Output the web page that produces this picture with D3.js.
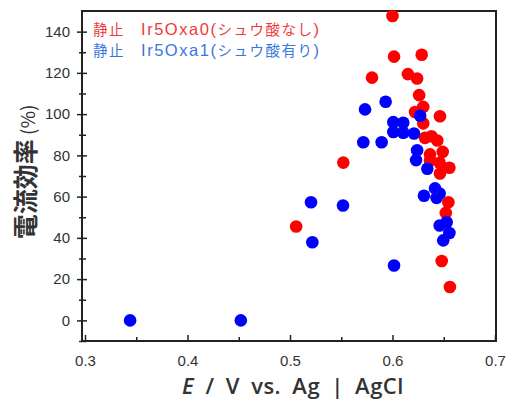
<!DOCTYPE html>
<html>
<head>
<meta charset="utf-8">
<style>
  body { margin: 0; background: #fff; }
  .tick text { font-family: "Liberation Sans", Arial, sans-serif; font-size: 15px; fill: #333; }
</style>
<script src="https://cdnjs.cloudflare.com/ajax/libs/d3/7.8.5/d3.min.js"></script>
</head>
<body>
<div id="chart"></div>
<script>
// 静止 Ir5Oxa0 (シュウ酸なし): [E, efficiency]
var redE   = [0.506, 0.552, 0.580, 0.600, 0.6015, 0.615, 0.624, 0.626, 0.6285, 0.622, 0.630, 0.6463, 0.630, 0.6317, 0.638, 0.6437, 0.649, 0.6366, 0.6366, 0.646, 0.6555, 0.6463, 0.6545, 0.652, 0.648, 0.656];
var redEff = [45.5, 76.5, 117.7, 147.6, 127.9, 119.4, 117.3, 109.2, 128.8, 101, 103.5, 99, 95.5, 88.5, 89.3, 87.2, 81.7, 80.5, 77.5, 76.4, 74, 71.2, 57.3, 52.1, 28.8, 16.2];

// 静止 Ir5Oxa1 (シュウ酸有り)
var blueE   = [0.344, 0.452, 0.5205, 0.5218, 0.5517, 0.6015, 0.5732, 0.5933, 0.6008, 0.6105, 0.6008, 0.6105, 0.621, 0.5715, 0.5894, 0.624, 0.623, 0.627, 0.634, 0.6415, 0.646, 0.643, 0.6307, 0.646, 0.6528, 0.6555, 0.6495];
var blueEff = [0, 0, 57.3, 37.9, 55.7, 26.6, 102.3, 106, 96.1, 95.8, 91.3, 91, 90.6, 86.4, 86.4, 82.5, 77.7, 99.2, 73.5, 64, 61.5, 59.4, 60.4, 46, 47.6, 42.4, 38.8];

var xMajor = [0.3, 0.4, 0.5, 0.6, 0.7];
var xMinor = [0.35, 0.45, 0.55, 0.65];
var yMajor = [0, 20, 40, 60, 80, 100, 120, 140];
var yMinor = [-10, 10, 30, 50, 70, 90, 110, 130];

// legend pieces: [cjk, latin, cjk, latin]
var legendRed  = ["静止　", "Ir5Oxa0(", "シュウ酸なし", ")"];
var legendBlue = ["静止　", "Ir5Oxa1(", "シュウ酸有り", ")"];

var W = 512, H = 403;
var box = {left: 82, right: 496, top: 11, bottom: 341};

var svg = d3.select("#chart").append("svg")
    .attr("width", W)
    .attr("height", H);

var x = d3.scaleLinear().domain([0.3, 0.7]).range([85, 495]);
var y = d3.scaleLinear().domain([-10, 150]).range([box.bottom, box.top]);

var fmtX = d3.format(".1f");

// x axis
svg.append("g")
    .attr("transform", "translate(0," + box.bottom + ")")
    .call(d3.axisBottom(x).tickValues(xMajor).tickSizeInner(-6).tickSizeOuter(0).tickPadding(14).tickFormat(fmtX));
svg.append("g")
    .attr("transform", "translate(0," + box.bottom + ")")
    .call(d3.axisBottom(x).tickValues(xMinor).tickSizeInner(-4).tickSizeOuter(0).tickFormat(""));

// y axis
var ya = svg.append("g")
    .attr("transform", "translate(" + box.left + ",0)")
    .call(d3.axisLeft(y).tickValues(yMajor).tickSizeOuter(0).tickPadding(6));
ya.selectAll(".tick line").attr("x1", -5).attr("x2", 5);
var ym = svg.append("g")
    .attr("transform", "translate(" + box.left + ",0)")
    .call(d3.axisLeft(y).tickValues(yMinor).tickSizeOuter(0).tickFormat(""));
ym.selectAll(".tick line").attr("x1", -3).attr("x2", 4);

svg.selectAll(".domain").remove();
svg.selectAll(".tick line").attr("stroke", "#222").attr("stroke-width", 1.5);

// frame
svg.append("rect")
    .attr("x", box.left).attr("y", box.top)
    .attr("width", box.right - box.left).attr("height", box.bottom - box.top)
    .attr("fill", "none").attr("stroke", "#222").attr("stroke-width", 2);

// points
function addPoints(es, vals, col) {
    svg.append("g").selectAll("circle")
        .data(d3.zip(es, vals))
        .join("circle")
        .attr("cx", d => x(d[0]))
        .attr("cy", d => y(d[1]))
        .attr("r", 6.3)
        .attr("fill", col);
}
addPoints(redE, redEff, "#ff0000");
addPoints(blueE, blueEff, "#0000ff");

// legend
function addLegend(parts, yPos, col) {
    var t = svg.append("text")
        .attr("x", 93).attr("y", yPos)
        .attr("fill", col)
        .attr("textLength", 226)
        .attr("lengthAdjust", "spacing");
    parts.forEach(function(p, i) {
        t.append("tspan")
            .style("font-family", i % 2 ? "'Liberation Sans', Arial, sans-serif" : "'Noto Sans CJK JP', sans-serif")
            .style("font-size", i % 2 ? "16.5px" : "14.5px")
            .text(p);
    });
}
addLegend(legendRed, 35, "#f03a3a");
addLegend(legendBlue, 56, "#3a76e0");

// axis titles
var xt = svg.append("text")
    .attr("x", 293).attr("y", 394)
    .attr("text-anchor", "middle")
    .style("font-family", "'Open Sans', sans-serif")
    .style("font-size", "22px")
    .style("font-weight", "600")
    .style("letter-spacing", "0.5px")
    .style("word-spacing", "5px")
    .attr("fill", "#333");
xt.append("tspan").style("font-style", "italic").text("E");
xt.append("tspan").text(" / V vs. Ag | AgCl");

var yt = svg.append("text")
    .attr("transform", "translate(35,172) rotate(-90)")
    .attr("text-anchor", "middle")
    .attr("fill", "#333");
yt.append("tspan")
    .style("font-family", "'Noto Sans CJK JP', sans-serif")
    .style("font-size", "25px")
    .style("font-weight", "bold")
    .text("電流効率");
yt.append("tspan")
    .style("font-family", "'Noto Sans CJK JP', sans-serif")
    .style("font-size", "19px")
    .text(" (%)");
</script>
</body>
</html>
